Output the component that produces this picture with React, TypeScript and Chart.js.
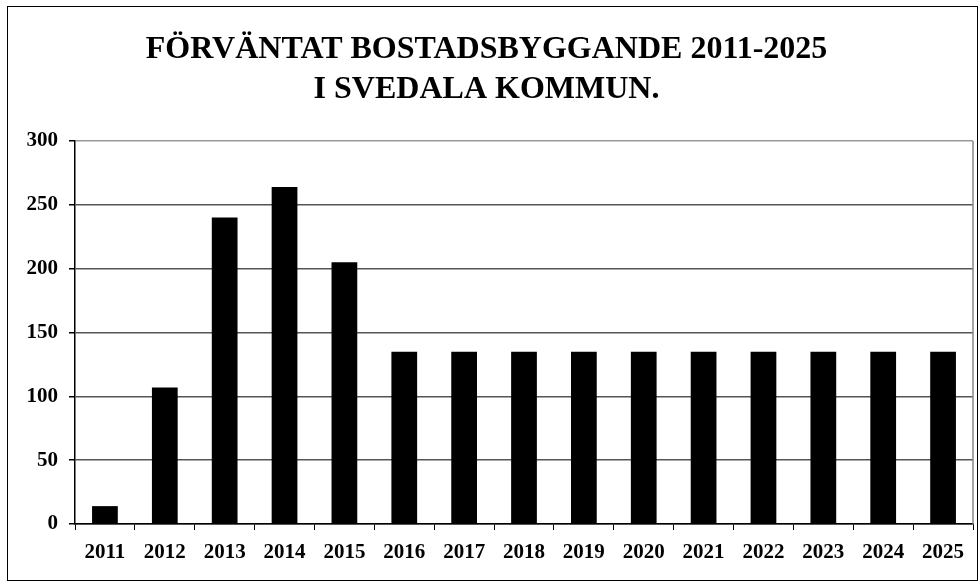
import React, { useEffect, useRef } from "react";
import { Chart, registerables } from "chart.js";

Chart.register(...registerables);

const titleLines = ["FÖRVÄNTAT BOSTADSBYGGANDE 2011-2025", "I SVEDALA KOMMUN."];
const years = ["2011", "2012", "2013", "2014", "2015", "2016", "2017", "2018", "2019", "2020", "2021", "2022", "2023", "2024", "2025"];
const dwellings = [14, 107, 240, 264, 205, 135, 135, 135, 135, 135, 135, 135, 135, 135, 135];
const yTicks = [0, 50, 100, 150, 200, 250, 300];

const FONT = '"Liberation Serif", "Times New Roman", serif';

const rightBorder = {
  id: "rightBorder",
  afterDraw(chart: any) {
    const { ctx, chartArea } = chart;
    ctx.save();
    ctx.strokeStyle = "#888";
    ctx.lineWidth = 1.5;
    ctx.beginPath();
    ctx.moveTo(chartArea.right, chartArea.top);
    ctx.lineTo(chartArea.right, chartArea.bottom);
    ctx.stroke();
    ctx.restore();
  },
};

export default function App() {
  const ref = useRef<HTMLCanvasElement>(null);
  useEffect(() => {
    const chart = new Chart(ref.current!, {
      type: "bar",
      data: {
        labels: years,
        datasets: [
          {
            data: dwellings,
            backgroundColor: "#000",
            borderWidth: 0,
            barPercentage: 0.43,
            categoryPercentage: 1,
          },
        ],
      },
      plugins: [rightBorder],
      options: {
        animation: false,
        responsive: false,
        layout: { padding: { left: 0, right: 6, top: 0, bottom: 0 } },
        plugins: {
          legend: { display: false },
          tooltip: { enabled: false },
          title: {
            display: true,
            text: titleLines,
            color: "#000",
            font: { family: FONT, size: 32, weight: "bold", lineHeight: 40 / 32 },
            padding: { top: 30, bottom: 31 },
          },
        },
        scales: {
          x: {
            afterFit: (s: any) => {
              s.height = 59;
            },
            grid: {
              offset: true,
              drawOnChartArea: false,
              drawTicks: true,
              tickLength: 6,
              tickColor: "#000",
            },
            border: { color: "#000", width: 1.5 },
            ticks: {
              color: "#000",
              font: { family: FONT, size: 21, weight: "bold" },
              padding: 10,
              maxRotation: 0,
              autoSkip: false,
            },
          },
          y: {
            min: yTicks[0],
            max: yTicks[yTicks.length - 1],
            afterFit: (s: any) => {
              s.width = 75;
            },
            afterBuildTicks: (s: any) => {
              s.ticks = yTicks.map((v) => ({ value: v }));
            },
            grid: {
              color: (c: any) => (c.tick && c.tick.value === 300 ? "#999" : "#555"),
              lineWidth: 1.5,
              drawTicks: true,
              tickLength: 6,
              tickColor: "#000",
            },
            border: { color: "#000", width: 1.5 },
            ticks: {
              color: "#000",
              font: { family: FONT, size: 21, weight: "bold" },
              padding: 11,
            },
          },
        },
      },
    });
    return () => chart.destroy();
  }, []);

  return (
    <div style={{ position: "fixed", left: 0, top: 0, width: 979, height: 583, background: "#fff" }}>
      <div
        style={{
          position: "absolute",
          left: 7,
          top: 6,
          width: 971,
          height: 575,
          border: "1.5px solid #000",
          boxSizing: "border-box",
        }}
      />
      <canvas ref={ref} width={979} height={583} style={{ position: "absolute", left: 0, top: 0 }} />
    </div>
  );
}
